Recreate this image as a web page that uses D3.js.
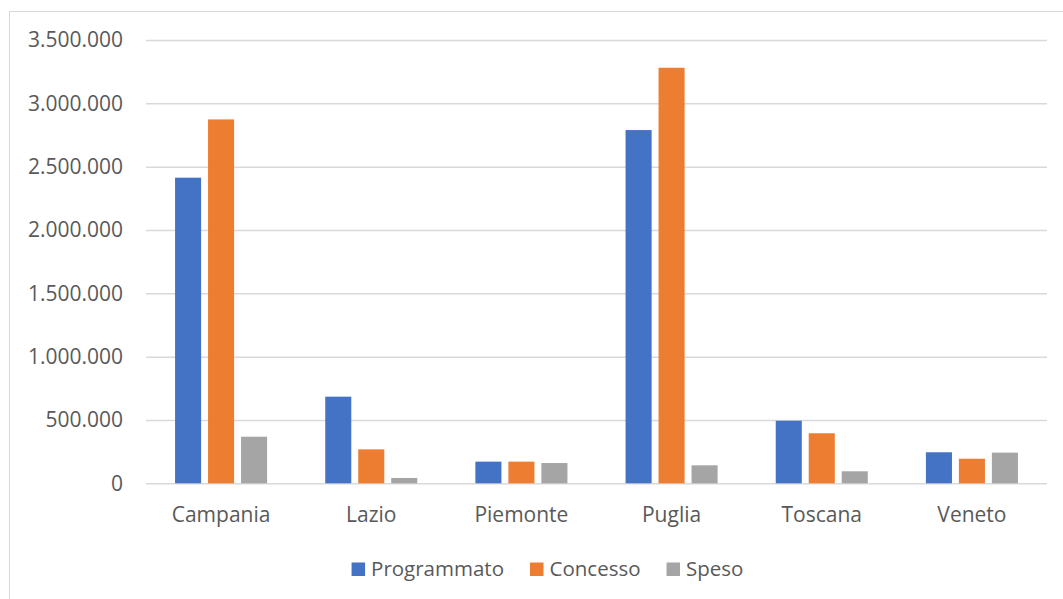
<!DOCTYPE html>
<html>
<head>
<meta charset="utf-8">
<script src="https://cdn.jsdelivr.net/npm/d3@7"></script>
<style>
  html, body { margin: 0; padding: 0; background: #fff; }
  svg { display: block; }
  text { font-family: "Open Sans", "Noto Sans", sans-serif; fill: #595959; }
</style>
</head>
<body>
<svg id="chart" width="1063" height="599"></svg>
<script>
// Regions and the three funding series
const categories = ["Campania", "Lazio", "Piemonte", "Puglia", "Toscana", "Veneto"];
const seriesNames = ["Programmato", "Concesso", "Speso"];
const programmato = [2413000, 684000, 171000, 2789000, 494000, 245000];
const concesso    = [2873000, 268000, 171000, 3281000, 395000, 194000];
const speso       = [368000, 42000, 160000, 142000, 95000, 242000];
const yTicks = [0, 500000, 1000000, 1500000, 2000000, 2500000, 3000000, 3500000];
const colors = ["#4472C4", "#ED7D31", "#A5A5A5"];

const seriesValues = [programmato, concesso, speso];
const rows = categories.map((c, i) => ({
  category: c,
  values: seriesNames.map((s, k) => ({ series: s, value: seriesValues[k][i], color: colors[k] }))
}));

const svg = d3.select("#chart");
const plot = { left: 146, right: 1047, top: 40, bottom: 483.3 };

// Outer chart frame (runs past the right and bottom edges)
svg.append("rect")
  .attr("x", 9.5).attr("y", 11.5)
  .attr("width", 1100).attr("height", 700)
  .attr("fill", "#fff").attr("stroke", "#d9d9d9").attr("stroke-width", 1);

const y = d3.scaleLinear().domain([0, 3500000]).range([plot.bottom, plot.top]);

const x0 = d3.scaleBand()
  .domain(categories)
  .range([plot.left, plot.right])
  .paddingInner(0.387)
  .paddingOuter(0.1935);

const x1 = d3.scaleBand()
  .domain(seriesNames)
  .range([0, x0.bandwidth()])
  .paddingInner(0.21)
  .paddingOuter(0);

const fmt = v => d3.format(",")(v).replace(/,/g, ".");

// Gridlines and y labels
const yAxis = d3.axisLeft(y)
  .tickValues(yTicks)
  .tickSize(-(plot.right - plot.left))
  .tickPadding(23)
  .tickFormat(fmt);

const gy = svg.append("g")
  .attr("transform", `translate(${plot.left},0)`)
  .call(yAxis);
gy.select(".domain").remove();
gy.selectAll(".tick line").attr("stroke", "#d9d9d9").attr("stroke-width", 1.5);
gy.selectAll(".tick text")
  .attr("font-size", 21)
  .attr("fill", "#595959")
  .style("font-family", '"Open Sans", sans-serif');

// Bars
const groups = svg.append("g").selectAll("g")
  .data(rows)
  .join("g")
  .attr("transform", d => `translate(${x0(d.category)},0)`);

groups.selectAll("rect")
  .data(d => d.values)
  .join("rect")
  .attr("x", d => x1(d.series))
  .attr("width", x1.bandwidth())
  .attr("y", d => y(d.value))
  .attr("height", d => y(0) - y(d.value))
  .attr("fill", d => d.color);

// Category axis labels
const xAxis = d3.axisBottom(x0).tickSize(0).tickPadding(24);
const gx = svg.append("g")
  .attr("transform", `translate(0,${plot.bottom})`)
  .call(xAxis);
gx.select(".domain").remove();
gx.selectAll(".tick text")
  .attr("font-size", 21)
  .attr("fill", "#595959")
  .style("font-family", '"Open Sans", sans-serif');

// Legend, centred under the chart
const legend = svg.append("g").attr("transform", "translate(0,576)");
const items = legend.selectAll("g")
  .data(seriesNames.map((s, k) => ({ name: s, color: colors[k] })))
  .join("g");
items.append("rect")
  .attr("y", -13.5).attr("width", 13.5).attr("height", 13.5)
  .attr("fill", d => d.color);
items.append("text")
  .attr("x", 19.5)
  .attr("font-size", 20.5)
  .text(d => d.name);

let offset = 0;
const itemGap = 26;
const widths = [];
items.each(function () {
  widths.push(19.5 + this.querySelector("text").getComputedTextLength());
});
const total = d3.sum(widths) + itemGap * (widths.length - 1);
const startX = 547.5 - total / 2;
items.attr("transform", (d, i) => {
  const tx = startX + offset;
  offset += widths[i] + itemGap;
  return `translate(${tx},0)`;
});
</script>
</body>
</html>
